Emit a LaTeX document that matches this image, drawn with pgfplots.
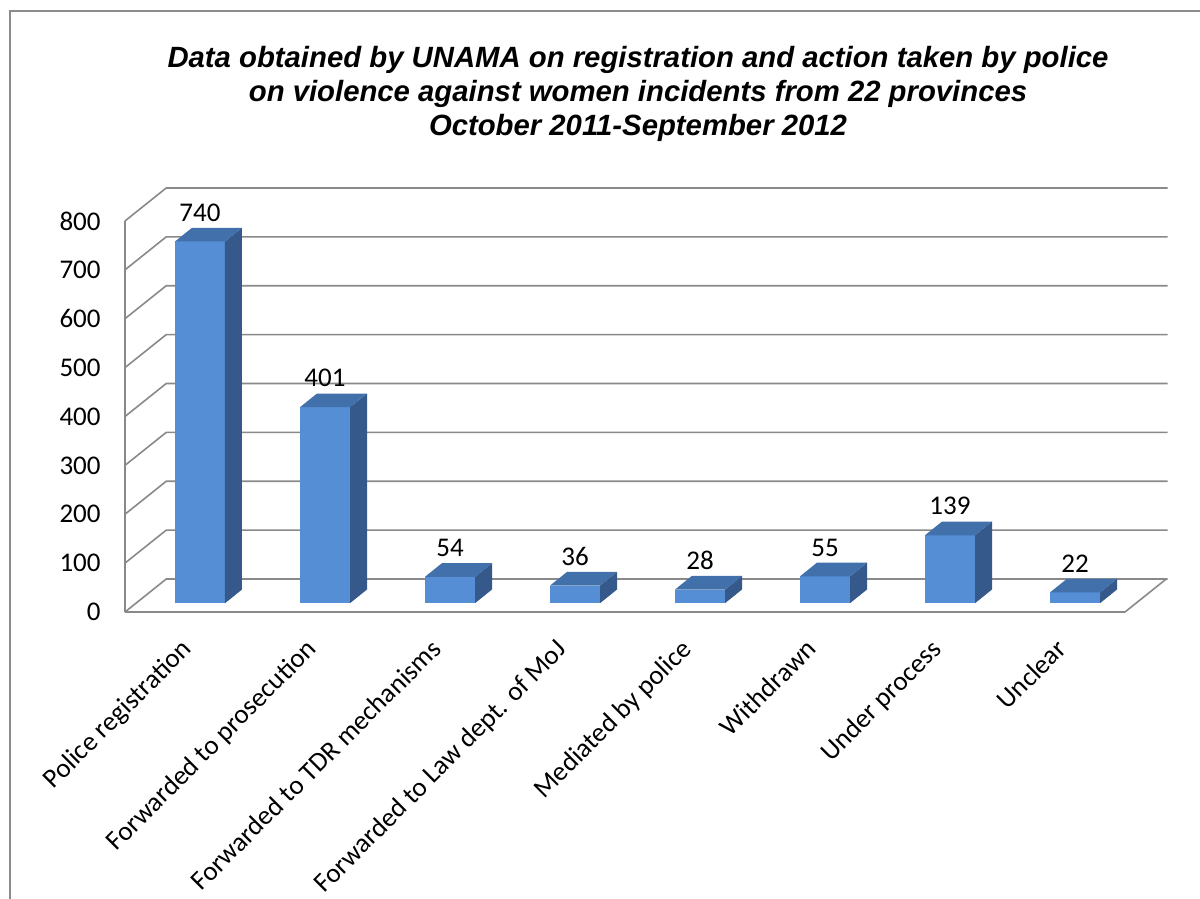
\documentclass[border=0pt]{standalone}
\usepackage{pgfplots}
\pgfplotsset{compat=1.18}
\usepackage{pgfplotstable}
\usepackage{fontspec}
\setmainfont{Carlito}
\newfontfamily\titlefont{Liberation Sans}
\definecolor{barfront}{HTML}{558ED5}
\definecolor{barside}{HTML}{35598A}
\definecolor{bartop}{HTML}{4170AA}
\definecolor{wallc}{HTML}{898989}
\definecolor{framec}{HTML}{8C8C8C}

\pgfplotstableread[row sep=\\]{
i v\\
0 740\\
1 401\\
2 54\\
3 36\\
4 28\\
5 55\\
6 139\\
7 22\\
}\datatable

\newcommand\drawbar[2]{%
  \pgfmathsetmacro\bxa{#1+0.4}%
  \pgfmathsetmacro\bxb{#1+0.8}%
  \pgfmathsetmacro\bxc{#1+0.936}%
  \pgfmathsetmacro\bxd{#1+0.536}%
  \pgfmathsetmacro\byb{18}%
  \pgfmathsetmacro\bybb{18+28}%
  \pgfmathsetmacro\byt{#2+18}%
  \pgfmathsetmacro\bytt{#2+18+28}%
  \edef\tmp{%
    \noexpand\addplot[fill=barfront, draw=none, mark=none] coordinates {(\bxa,\byb) (\bxb,\byb) (\bxb,\byt) (\bxa,\byt)} --cycle;
    \noexpand\addplot[fill=barside, draw=none, mark=none] coordinates {(\bxb,\byb) (\bxc,\bybb) (\bxc,\bytt) (\bxb,\byt)} --cycle;
    \noexpand\addplot[fill=bartop, draw=none, mark=none] coordinates {(\bxa,\byt) (\bxb,\byt) (\bxc,\bytt) (\bxd,\bytt)} --cycle;
  }\tmp
}

\begin{document}
\begin{tikzpicture}
\path[use as bounding box] (-62.5pt,-143.5pt) rectangle (537.5pt,306pt);
\begin{scope}
\clip (-62.5pt,-143.5pt) rectangle (537.5pt,306pt);
\draw[framec, line width=1pt] (-57.5pt,-160pt) rectangle (560pt,300.5pt);
\end{scope}
\node[font=\titlefont\bfseries\itshape\fontsize{14.65}{17}\selectfont, align=center] at (256.5pt,259pt)
  {Data obtained by UNAMA on registration and action taken by police\\on violence against women incidents from 22 provinces\\October 2011-September 2012};
\begin{axis}[at={(0pt,0pt)}, anchor=south west,
  x=62.5pt, y=0.2444pt,
  xmin=0, xmax=8.4, ymin=0, ymax=880,
  clip=false,
  axis line style={draw=none}, tick style={draw=none},
  ytick={0,100,...,800},
  xtick={0.5,1.5,...,7.5},
  xticklabels={Police registration, Forwarded to prosecution, Forwarded to TDR mechanisms, Forwarded to Law dept. of MoJ, Mediated by police, Withdrawn, Under process, Unclear},
  yticklabel style={anchor=east, inner sep=0pt, xshift=-12pt, font=\fontsize{13.5}{16}\selectfont},
  xticklabel style={font=\fontsize{13.5}{16}\selectfont},
  xticklabel style={yshift=-12.5pt, xshift=-4pt, rotate=45, anchor=north east, inner sep=0pt},
  /pgf/number format/assume math mode=true,
]
\pgfplotsinvokeforeach{0,100,...,800}{
  \pgfmathsetmacro\wy{#1+67.5}
  \edef\tmp{\noexpand\addplot[wallc, line width=0.8pt, mark=none] coordinates {(0,#1) (0.33,\wy) (8.34,\wy)};}\tmp
}
\addplot[wallc, line width=0.8pt, mark=none] coordinates {(0,0) (0,800)};
\addplot[wallc, line width=0.8pt, mark=none] coordinates {(0,0) (8,0) (8.33,67.5)};
\pgfplotsinvokeforeach{0,...,7}{
  \pgfplotstablegetelem{#1}{v}\of\datatable
  \drawbar{#1}{\pgfplotsretval}
}
\addplot[draw=none, mark=none, nodes near coords, point meta=explicit,
  nodes near coords style={anchor=south, inner sep=0pt, yshift=3pt, font=\fontsize{13.5}{16}\selectfont}]
  table[x expr=\thisrow{i}+0.6, y expr=\thisrow{v}+46, meta=v] {\datatable};
\end{axis}
\end{tikzpicture}
\end{document}
